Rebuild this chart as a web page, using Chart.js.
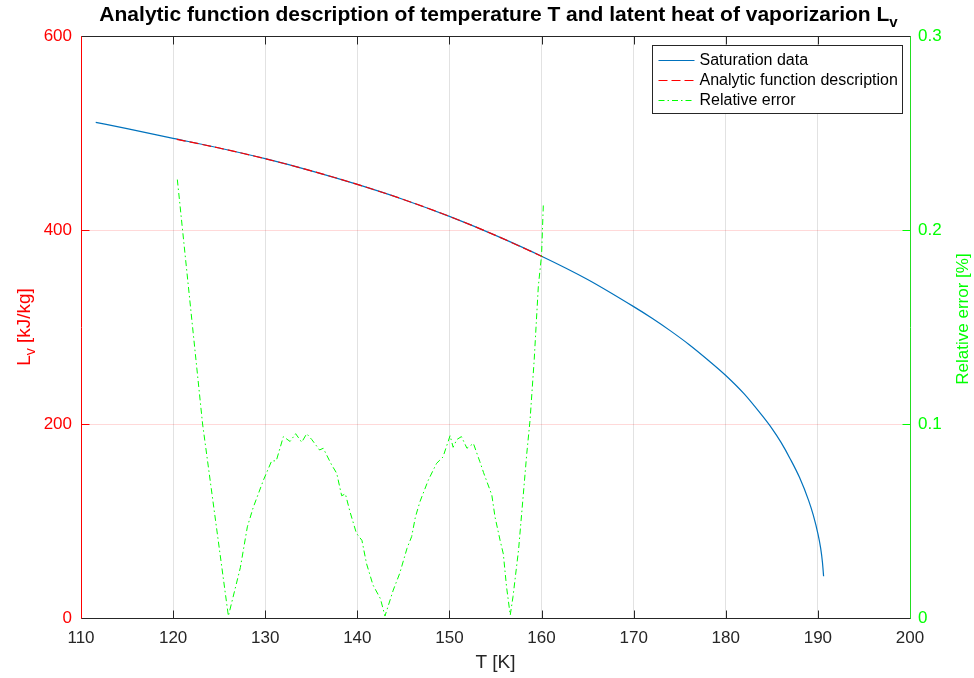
<!DOCTYPE html>
<html>
<head>
<meta charset="utf-8">
<script src="https://cdn.jsdelivr.net/npm/chart.js@4/dist/chart.umd.min.js"></script>
<style>
  html, body { margin: 0; padding: 0; background: #fff; }
  #wrap { position: relative; width: 974px; height: 678px; }
</style>
</head>
<body>
<div id="wrap"><canvas id="chart"></canvas></div>
<script>
// saturation data (T in K, Lv in kJ/kg)
const satT = [111.6, 115, 120, 125, 130, 135, 140, 145, 150, 155, 160, 165, 170, 172, 174, 176, 178, 180, 182, 184, 185, 186, 187, 188, 189, 189.5, 190, 190.3, 190.5, 190.62];
const satL = [511, 504.5, 494.5, 484.5, 473.5, 461, 447, 431.5, 414, 394.5, 373, 349, 321, 309, 296, 282, 266.5, 250, 231, 208, 195.5, 181, 164, 145, 121, 106, 87, 72, 57, 43];

// analytic function description
const anaT = [120.4, 125, 130, 135, 140, 145, 150, 155, 160.1];
const anaL = [493.5, 484.5, 473.5, 461, 447, 431.5, 414, 394.5, 372.5];

// relative error [%]
const errT = [120.46, 123.2, 126.0, 127.3, 128.06, 128.7, 129.8, 130.7, 131.2, 131.97, 132.7, 133.3, 133.96, 134.5, 135.05, 135.9, 136.3,
  137.2, 137.76, 138.3, 138.7, 139.2, 139.9, 140.5, 141.0, 141.7, 142.5, 143.0, 143.9, 144.6, 145.4, 145.9, 146.3, 146.8, 147.7,
  148.6, 149.3, 150.07, 150.4, 150.8, 151.3, 151.9, 152.6, 153.3, 153.7, 154.6, 154.95, 155.5, 155.85, 156.2, 156.6, 156.9, 157.5,
  158.0, 158.4, 158.75, 159.2, 159.65, 160.0, 160.2];
const errV = [0.226, 0.100, 0.001, 0.026, 0.047, 0.057, 0.071, 0.081, 0.081, 0.0935, 0.091, 0.095, 0.0906, 0.095, 0.092, 0.0866, 0.0875,
  0.079, 0.0746, 0.063, 0.064, 0.0548, 0.0437, 0.040, 0.028, 0.017, 0.010, 0.001, 0.0144, 0.023, 0.036, 0.042, 0.052, 0.060, 0.071,
  0.0797, 0.083, 0.094, 0.088, 0.092, 0.0935, 0.0875, 0.090, 0.0806, 0.075, 0.0634, 0.052, 0.040, 0.033, 0.016, 0.0015, 0.011, 0.035,
  0.0626, 0.085, 0.102, 0.133, 0.171, 0.187, 0.214];

// tick labels
const xTicks = [110, 120, 130, 140, 150, 160, 170, 180, 190, 200];
const leftTicks = [0, 200, 400, 600];
const rightTicks = [0, 0.1, 0.2, 0.3];

const FONT = '"Liberation Sans", Arial, Helvetica, sans-serif';
const RED = '#FF0000';
const GREEN = '#00FF00';
const DARK = '#262626';

function toPoints(xs, ys) {
  return xs.map((x, i) => ({ x: x, y: ys[i] }));
}

// hide grid lines that sit on the box edges
function innerGrid(color, first, last) {
  return c => (c.tick && (c.tick.value === first || c.tick.value === last)) ? 'rgba(0,0,0,0)' : color;
}

// MATLAB-like frame, inward ticks, axis labels with subscripts, title and legend
const matlabLook = {
  id: 'matlabLook',
  afterDraw(chart) {
    const { ctx, chartArea: a, scales } = chart;
    const tl = 8;
    ctx.save();
    ctx.lineWidth = 1;

    const L = Math.round(a.left) + 0.5, R = Math.round(a.right) + 0.5;
    const T = Math.round(a.top) + 0.5, B = Math.round(a.bottom) + 0.5;

    // x ticks (bottom + top)
    ctx.strokeStyle = DARK;
    scales.x.ticks.forEach(t => {
      const px = Math.round(scales.x.getPixelForValue(t.value)) + 0.5;
      ctx.beginPath();
      ctx.moveTo(px, B); ctx.lineTo(px, B - tl);
      ctx.moveTo(px, T); ctx.lineTo(px, T + tl);
      ctx.stroke();
    });
    // left ticks
    ctx.strokeStyle = RED;
    scales.y.ticks.forEach(t => {
      const py = Math.round(scales.y.getPixelForValue(t.value)) + 0.5;
      ctx.beginPath(); ctx.moveTo(L, py); ctx.lineTo(L + tl, py); ctx.stroke();
    });
    // right ticks
    ctx.strokeStyle = GREEN;
    scales.y1.ticks.forEach(t => {
      const py = Math.round(scales.y1.getPixelForValue(t.value)) + 0.5;
      ctx.beginPath(); ctx.moveTo(R, py); ctx.lineTo(R - tl, py); ctx.stroke();
    });

    // frame
    ctx.strokeStyle = DARK;
    ctx.beginPath(); ctx.moveTo(L, B); ctx.lineTo(R, B); ctx.moveTo(L, T); ctx.lineTo(R, T); ctx.stroke();
    ctx.strokeStyle = RED;
    ctx.beginPath(); ctx.moveTo(L, T); ctx.lineTo(L, B); ctx.stroke();
    ctx.strokeStyle = '#22dd22';
    ctx.beginPath(); ctx.moveTo(R, T); ctx.lineTo(R, B); ctx.stroke();

    const midY = (a.top + a.bottom) / 2;

    // left axis label L_v [kJ/kg]
    ctx.save();
    ctx.translate(30, midY);
    ctx.rotate(-Math.PI / 2);
    ctx.fillStyle = RED;
    ctx.textBaseline = 'alphabetic';
    ctx.font = '19px ' + FONT;
    const wL = ctx.measureText('L').width;
    ctx.font = '14px ' + FONT;
    const wv = ctx.measureText('v').width;
    ctx.font = '19px ' + FONT;
    const wRest = ctx.measureText(' [kJ/kg]').width;
    const sx = -(wL + wv + wRest) / 2;
    ctx.fillText('L', sx, 0);
    ctx.font = '14px ' + FONT;
    ctx.fillText('v', sx + wL, 5);
    ctx.font = '19px ' + FONT;
    ctx.fillText(' [kJ/kg]', sx + wL + wv, 0);
    ctx.restore();

    // right axis label
    ctx.save();
    ctx.translate(968, midY - 8);
    ctx.rotate(-Math.PI / 2);
    ctx.fillStyle = GREEN;
    ctx.font = '17px ' + FONT;
    ctx.textAlign = 'center';
    ctx.fillText('Relative error [%]', 0, 0);
    ctx.restore();

    // title
    const cx = (a.left + a.right) / 2 + 3;
    const main = 'Analytic function description of temperature T and latent heat of vaporizarion L';
    ctx.fillStyle = '#000';
    ctx.font = 'bold 21px ' + FONT;
    const wm = ctx.measureText(main).width;
    ctx.font = 'bold 15px ' + FONT;
    const ws = ctx.measureText('v').width;
    const tx = cx - (wm + ws) / 2;
    ctx.font = 'bold 21px ' + FONT;
    ctx.fillText(main, tx, 21);
    ctx.font = 'bold 15px ' + FONT;
    ctx.fillText('v', tx + wm, 27);

    // legend
    ctx.font = '16px ' + FONT;
    const sets = chart.data.datasets;
    const maxW = Math.max(...sets.map(d => ctx.measureText(d.label).width));
    const boxR = Math.round(a.right) - 7.5, boxT = a.top + 9.5;
    const boxW = Math.round(47 + maxW + 5), rowH = 20;
    const boxL = boxR - boxW, boxH = rowH * sets.length + 8;
    ctx.fillStyle = '#fff';
    ctx.fillRect(boxL, boxT, boxW, boxH);
    ctx.strokeStyle = DARK;
    ctx.strokeRect(boxL, boxT, boxW, boxH);
    sets.forEach((d, i) => {
      const y = Math.round(boxT + 14 + i * rowH) + 0.5;
      ctx.save();
      ctx.strokeStyle = d.borderColor;
      ctx.lineWidth = d.borderWidth;
      ctx.setLineDash(d.borderDash || []);
      ctx.beginPath(); ctx.moveTo(boxL + 6, y); ctx.lineTo(boxL + 42, y); ctx.stroke();
      ctx.restore();
      ctx.fillStyle = '#000';
      ctx.textBaseline = 'middle';
      ctx.fillText(d.label, boxL + 47, y);
    });
    ctx.restore();
  }
};

new Chart(document.getElementById('chart'), {
  type: 'line',
  data: {
    datasets: [
      {
        label: 'Saturation data',
        data: toPoints(satT, satL),
        borderColor: '#0072BD',
        borderWidth: 1.2,
        pointRadius: 0,
        cubicInterpolationMode: 'monotone',
        yAxisID: 'y',
        order: 3
      },
      {
        label: 'Analytic function description',
        data: toPoints(anaT, anaL),
        borderColor: RED,
        borderWidth: 1.2,
        borderDash: [9, 4],
        pointRadius: 0,
        cubicInterpolationMode: 'monotone',
        yAxisID: 'y',
        order: 2
      },
      {
        label: 'Relative error',
        data: toPoints(errT, errV),
        borderColor: GREEN,
        borderWidth: 1,
        borderDash: [6, 3, 1.5, 3],
        pointRadius: 0,
        tension: 0,
        yAxisID: 'y1',
        order: 1
      }
    ]
  },
  options: {
    responsive: true,
    maintainAspectRatio: false,
    animation: false,
    layout: { padding: { top: 36, left: 0, right: 0, bottom: 0 } },
    plugins: {
      legend: { display: false },
      title: { display: false },
      tooltip: { enabled: false }
    },
    scales: {
      x: {
        type: 'linear',
        min: 110,
        max: 200,
        afterBuildTicks: s => { s.ticks = xTicks.map(v => ({ value: v })); },
        afterFit: s => { s.height = 60; },
        grid: { color: innerGrid('#e2e2e2', 110, 200), drawTicks: false },
        border: { display: false },
        ticks: { color: DARK, font: { size: 17, family: FONT }, padding: 10, maxRotation: 0 },
        title: { display: true, text: 'T [K]', color: DARK, font: { size: 19, family: FONT }, padding: { top: 0, bottom: 4 } }
      },
      y: {
        position: 'left',
        min: 0,
        max: 600,
        afterBuildTicks: s => { s.ticks = leftTicks.map(v => ({ value: v })); },
        afterFit: s => { s.width = 81; },
        grid: { color: innerGrid('rgba(255,0,0,0.15)', 0, 600), drawTicks: false },
        border: { display: false },
        ticks: { color: RED, font: { size: 17, family: FONT }, padding: 9 }
      },
      y1: {
        position: 'right',
        min: 0,
        max: 0.3,
        afterBuildTicks: s => { s.ticks = rightTicks.map(v => ({ value: v })); },
        afterFit: s => { s.width = 64; },
        grid: { display: false, drawTicks: false },
        border: { display: false },
        ticks: { color: GREEN, font: { size: 17, family: FONT }, padding: 8, callback: v => String(v) }
      }
    }
  },
  plugins: [matlabLook]
});
</script>
</body>
</html>
